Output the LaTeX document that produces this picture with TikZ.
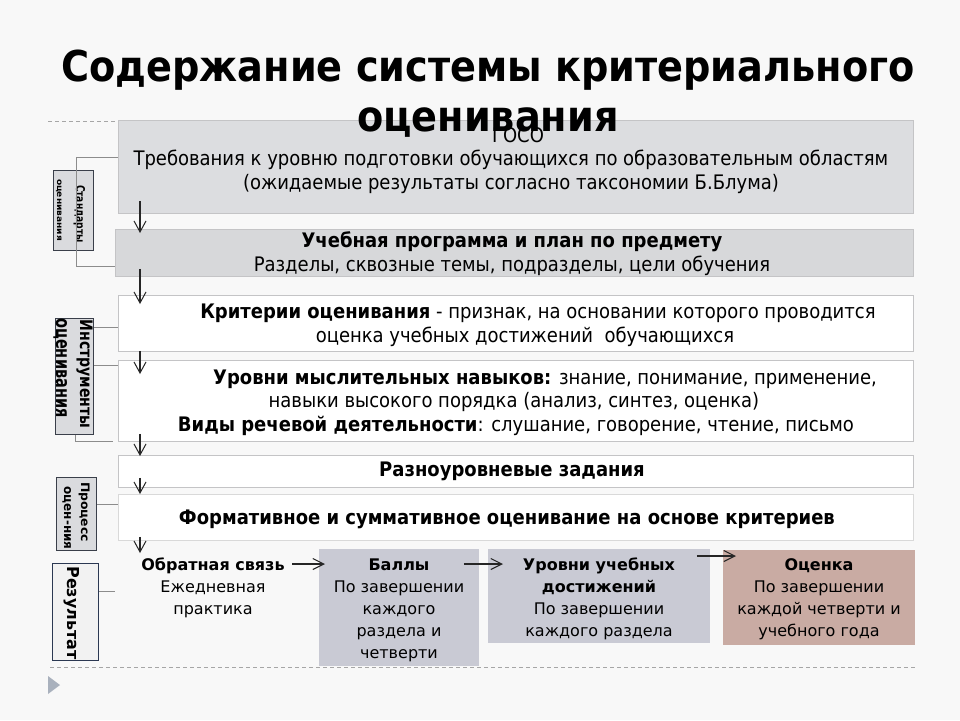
\documentclass[tikz,border=0pt]{standalone}
\usepackage{fontspec}
\setmainfont{DejaVu Sans Condensed}
\newfontfamily\widefont{DejaVu Sans}
\usetikzlibrary{arrows.meta}
\definecolor{bgc}{HTML}{F8F8F8}
\definecolor{boxa}{HTML}{DCDDE0}
\definecolor{boxb}{HTML}{D7D8DA}
\definecolor{edgec}{HTML}{C4C4C6}
\definecolor{bluegray}{HTML}{C9CAD4}
\definecolor{rose}{HTML}{C9ABA3}
\definecolor{labfill}{HTML}{DADBDE}
\definecolor{labedge}{HTML}{3A3F4A}
\definecolor{resedge}{HTML}{2B3852}
\definecolor{tri}{HTML}{A9B1BD}
\tikzset{
  panel/.style={draw=edgec, line width=0.8pt, anchor=north west, inner sep=0pt},
  txt/.style={font=\fontsize{20}{24}\selectfont, align=center, inner sep=0pt},
  btxt/.style={font=\fontsize{16}{22}\selectfont\widefont, align=center, inner sep=0pt},
  darr/.style={line width=1.1pt, draw=black!85, -{Straight Barb[length=11pt,width=12pt,line width=1pt]}},
  harr/.style={line width=1.3pt, draw=black!85, -{Straight Barb[length=11pt,width=11pt,line width=1.1pt]}},
  brk/.style={draw=black!45, line width=0.8pt},
  lab/.style={draw=labedge, line width=1.3pt, fill=labfill, anchor=north west, inner sep=0pt},
  labt/.style={rotate=-90, anchor=base, inner sep=0pt, font=\bfseries},
  dsh/.style={draw=black!35, line width=0.8pt, dash pattern=on 4pt off 3pt}
}
\begin{document}
\begin{tikzpicture}[x=1pt,y=-1pt]
\useasboundingbox[fill=bgc] (0,0) rectangle (960,720);

% decorative dashed lines and triangle
\draw[dsh] (48,121) -- (118,121);
\draw[dsh] (50,667) -- (915,667);
\fill[tri] (48,676) -- (60,685) -- (48,694) -- cycle;

% main panels
\node[panel, fill=boxa, minimum width=795pt, minimum height=93pt] (b1) at (118,120) {};
\node[panel, fill=boxb, minimum width=798pt, minimum height=47pt] (b2) at (115,229) {};
\node[panel, fill=white, minimum width=795pt, minimum height=56pt] (b3) at (118,295) {};
\node[panel, fill=white, minimum width=795pt, minimum height=81pt] (b4) at (118,360) {};
\node[panel, fill=white, minimum width=795pt, minimum height=32pt] (b5) at (118,455) {};
\node[panel, fill=white, draw=black!15, minimum width=795pt, minimum height=46pt] (b6) at (118,494) {};

% texts
\node[txt] (t1a) at (518,135) {ГОСО};
\node[txt] (t1b) at (511,172) {Требования к уровню подготовки обучающихся по образовательным областям\\(ожидаемые результаты согласно таксономии Б.Блума)};
\node[txt] (t2) at (512,254) {\textbf{Учебная программа и план по предмету}\\Разделы, сквозные темы, подразделы, цели обучения};
\node[txt] (t3a) at (538,313) {\textbf{Критерии оценивания} - признак, на основании которого проводится};
\node[txt] (t3b) at (525,337) {оценка учебных достижений\ \ обучающихся};
\node[txt] (t4a) at (545,379) {\textbf{Уровни мыслительных навыков:} знание, понимание, применение,};
\node[txt] (t4b) at (514,402) {навыки высокого порядка (анализ, синтез, оценка)};
\node[txt] (t4c) at (516,426) {\textbf{Виды речевой деятельности}: слушание, говорение, чтение, письмо};
\node[txt] (t5) at (512,471) {\textbf{Разноуровневые задания}};
\node[txt] (t6) at (507,519) {\textbf{Формативное и суммативное оценивание на основе критериев}};

% title
\node[font=\fontsize{42.5}{50}\selectfont\bfseries, align=center, inner sep=0pt] (title) at (488,94) {Содержание системы критериального\\оценивания};

% down arrows
\coordinate (ax) at (140,0);
\coordinate (e6) at (140,553);
\draw[darr] (ax |- b1.south) ++(0,-13) -- ([yshift=-4pt]ax |- b2.north);
\draw[darr] (ax |- b2.south) ++(0,-8) -- ([yshift=-9pt]ax |- b3.north);
\draw[darr] (ax |- b3.south) ++(0,-1) -- ([yshift=-14pt]ax |- b4.north);
\draw[darr] (ax |- b4.south) ++(0,-8) -- ([yshift=-1pt]ax |- b5.north);
\draw[darr] (ax |- b5.south) ++(0,-10) -- ([yshift=0pt]ax |- b6.north);
\draw[darr] (ax |- b6.south) ++(0,-4) -- (e6);

% left labels
\node[lab, minimum width=40pt, minimum height=80pt] (l1) at (53,170) {};
\node[labt] (l1a) at (76,214) {\resizebox{58pt}{9pt}{Стандарты}};
\node[labt] (l1b) at (57,210) {\resizebox{62pt}{4.5pt}{оценивания}};
\node[lab, minimum width=38pt, minimum height=116pt] (l2) at (55,318) {};
\node[labt] (l2a) at (80,374) {\resizebox{109pt}{12.5pt}{Инструменты}};
\node[labt] (l2b) at (56,368) {\resizebox{99pt}{11pt}{оценивания}};
\node[lab, minimum width=40pt, minimum height=73pt] (l3) at (56,477) {};
\node[labt] (l3a) at (81,512) {\resizebox{60pt}{8.5pt}{Процесс}};
\node[labt] (l3b) at (64,518) {\resizebox{63pt}{7pt}{оцен-ния}};
\node[lab, fill=black!5, draw=resedge, minimum width=46pt, minimum height=97pt] (l4) at (52,563) {};
\node[labt] (l4a) at (67,613) {\resizebox{93pt}{12pt}{Результат}};

% brackets
\draw[brk] (b1.west |- 0,157) -- (76,157) -- (76,266) -- (b2.west |- 0,266);
\draw[brk] (l2.east |- 0,327) -- (b3.west |- 0,327);
\draw[brk] (l2.east |- 0,365) -- (b4.west |- 0,365);
\draw[brk] (l2.south -| 75,0) -- (75,441) -- (113,441);
\draw[brk] (l3.east |- 0,504) -- (b6.west |- 0,504);
\draw[brk] (l4.east |- 0,591) -- (115,591);

% bottom row
\node[btxt] (fb) at (213,588) {\textbf{Обратная связь}\\Ежедневная\\практика};
\node[panel, draw=none, fill=bluegray, minimum width=160pt, minimum height=117pt] (r1) at (319,549) {};
\node[panel, draw=none, fill=bluegray, minimum width=222pt, minimum height=94pt] (r2) at (488,549) {};
\node[panel, draw=none, fill=rose, minimum width=192pt, minimum height=95pt] (r3) at (723,550) {};
\node[btxt] (r1t) at (399,610) {\textbf{Баллы}\\По завершении\\каждого\\раздела и\\четверти};
\node[btxt] (r2t) at (599,599) {\textbf{Уровни учебных}\\\textbf{достижений}\\По завершении\\каждого раздела};
\node[btxt] (r3t) at (819,599) {\textbf{Оценка}\\По завершении\\каждой четверти и\\учебного года};
\draw[harr] ([xshift=-27pt]r1.west |- 0,564) -- ([xshift=6pt]r1.west |- 0,564);
\draw[harr] ([xshift=-16pt]r1.east |- 0,564) -- ([xshift=15pt]r2.west |- 0,564);
\draw[harr] ([xshift=-14pt]r2.east |- 0,556) -- ([xshift=13pt]r3.west |- 0,556);
\end{tikzpicture}
\end{document}
